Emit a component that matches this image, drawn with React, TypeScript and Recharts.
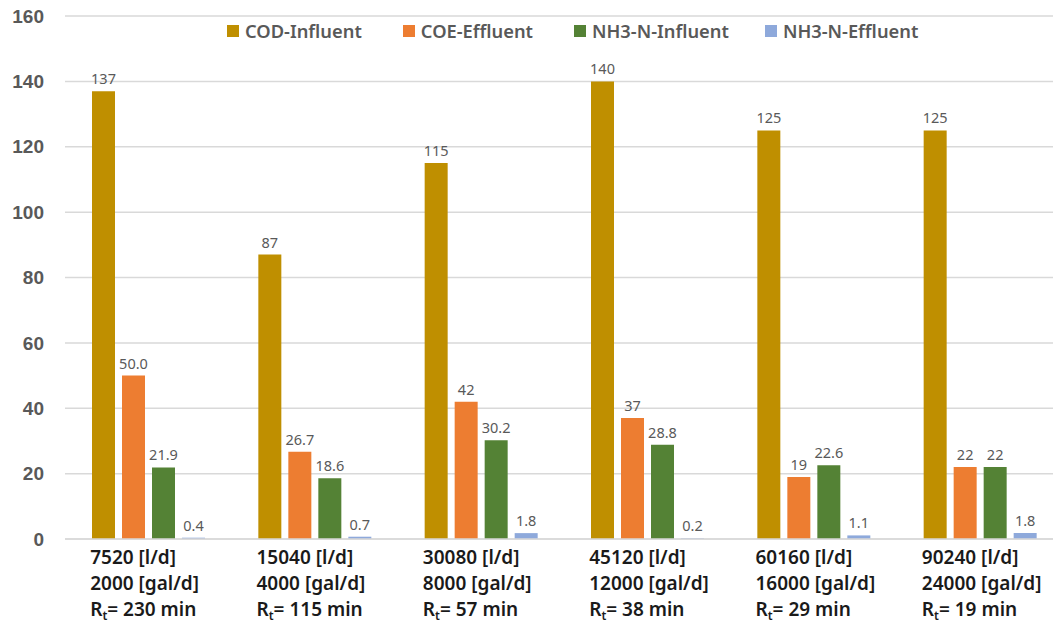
import { Bar, BarChart, CartesianGrid, LabelList, XAxis, YAxis } from "recharts";

// ---------------------------------------------------------------------------
// Data
// ---------------------------------------------------------------------------

const flowLitres = ["7520 [l/d]", "15040 [l/d]", "30080 [l/d]", "45120 [l/d]", "60160 [l/d]", "90240 [l/d]"];
const flowGallons = ["2000 [gal/d]", "4000 [gal/d]", "8000 [gal/d]", "12000 [gal/d]", "16000 [gal/d]", "24000 [gal/d]"];
const retention = ["230 min", "115 min", "57 min", "38 min", "29 min", "19 min"];

const codInfluent = [137, 87, 115, 140, 125, 125];
const coeEffluent = [50.0, 26.7, 42, 37, 19, 22];
const nh3Influent = [21.9, 18.6, 30.2, 28.8, 22.6, 22];
const nh3Effluent = [0.4, 0.7, 1.8, 0.2, 1.1, 1.8];

// Labels as printed on the chart (mixed precision, e.g. "50.0")
const coeLabels = ["50.0", "26.7", "42", "37", "19", "22"];

const yTicks = [0, 20, 40, 60, 80, 100, 120, 140, 160];

const SERIES = [
  { key: "cod", name: "COD-Influent", color: "#BF8F00" },
  { key: "coe", name: "COE-Effluent", color: "#ED7D31" },
  { key: "nh3in", name: "NH3-N-Influent", color: "#548235" },
  { key: "nh3out", name: "NH3-N-Effluent", color: "#8EA9DB" },
];

const rows = flowLitres.map((_, i) => ({
  idx: i,
  cod: codInfluent[i],
  coe: coeEffluent[i],
  coeLabel: coeLabels[i],
  nh3in: nh3Influent[i],
  nh3out: nh3Effluent[i],
}));

const LABEL_FONT = "'Noto Sans', sans-serif";

// Three-line category label with subscript t in R_t
function CategoryTick(props: any) {
  const { x, y, payload } = props;
  const i = payload.value as number;
  const style = { fontFamily: LABEL_FONT, fontSize: 19, fontWeight: 600, fill: "#1a1a1a" };
  const left = x - 58;
  return (
    <g>
      <text x={left} y={y + 17} {...style}>{flowLitres[i]}</text>
      <text x={left} y={y + 43} {...style}>{flowGallons[i]}</text>
      <text x={left} y={y + 69} {...style}>
        R
        <tspan fontSize={12} dy={4}>t</tspan>
        <tspan dy={-4}>= {retention[i]}</tspan>
      </text>
    </g>
  );
}

// Legend drawn as plain HTML over the chart so it takes no plot space
function TopLegend() {
  const gaps = [0, 41, 41, 36];
  return (
    <div
      style={{
        position: "absolute",
        left: 227,
        top: 19,
        display: "flex",
        alignItems: "center",
        fontFamily: LABEL_FONT,
        fontSize: 18.3,
        fontWeight: 600,
        color: "#595959",
        lineHeight: "24px",
      }}
    >
      {SERIES.map((s, i) => (
        <div key={s.key} style={{ display: "flex", alignItems: "center", marginLeft: gaps[i] }}>
          <span style={{ display: "inline-block", width: 12, height: 12, background: s.color, marginRight: 6 }} />
          <span>{s.name}</span>
        </div>
      ))}
    </div>
  );
}

export default function App() {
  // The source image is cropped on the right: the plot runs ~10px past the edge.
  return (
    <div style={{ position: "absolute", left: 0, top: 0, width: 1053, height: 625, overflow: "hidden", background: "#fff" }}>
      <BarChart
        width={1063}
        height={625}
        data={rows}
        margin={{ top: 16, right: 0, bottom: 0, left: 0 }}
        barCategoryGap="15%"
        barGap={7}
      >
        <CartesianGrid vertical={false} stroke="#D9D9D9" strokeWidth={1.5} />
        <XAxis
          dataKey="idx"
          height={86}
          axisLine={{ stroke: "#D9D9D9", strokeWidth: 1.5 }}
          tickLine={false}
          interval={0}
          tick={<CategoryTick />}
        />
        <YAxis
          width={65}
          domain={[0, 160]}
          ticks={yTicks}
          axisLine={false}
          tickLine={false}
          tickMargin={15}
          tick={{ fontFamily: "'Liberation Sans', Arial, sans-serif", fontSize: 19, fontWeight: 700, fill: "#595959" }}
        />
        {SERIES.map((s) => (
          <Bar
            key={s.key}
            dataKey={s.key}
            name={s.name}
            fill={s.color}
            barSize={23}
            isAnimationActive={false}
          >
            <LabelList
              dataKey={s.key === "coe" ? "coeLabel" : s.key}
              position="top"
              offset={7}
              style={{ fontFamily: LABEL_FONT, fontSize: 14.5, fill: "#595959" }}
            />
          </Bar>
        ))}
      </BarChart>
      <TopLegend />
    </div>
  );
}
